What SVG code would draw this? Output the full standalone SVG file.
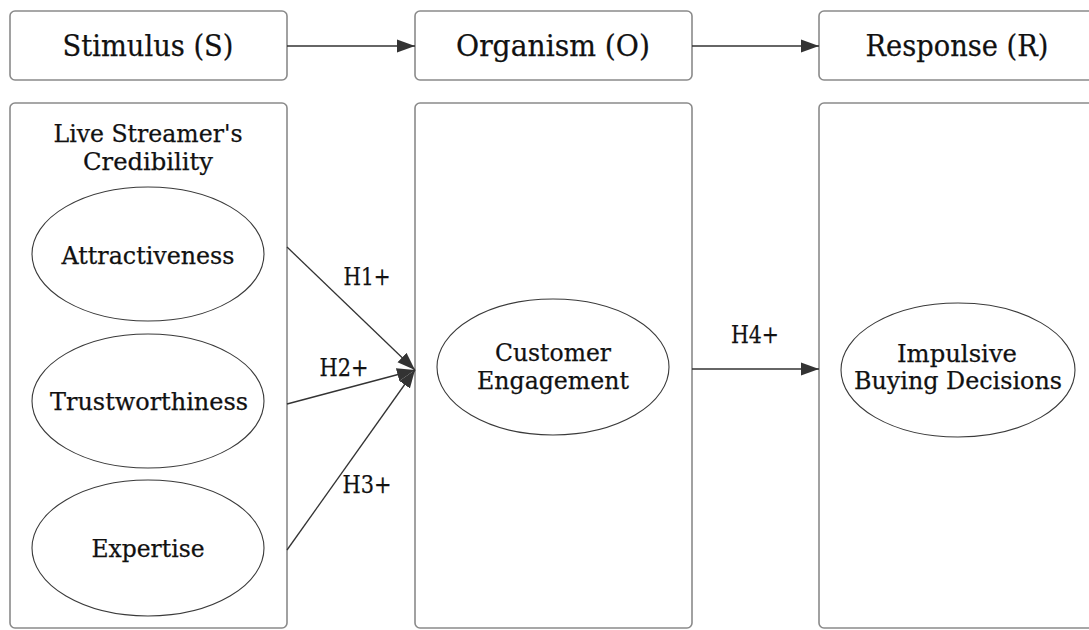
<svg xmlns="http://www.w3.org/2000/svg" width="1089" height="630" viewBox="0 0 1089 630">
<style>
.box{fill:#fff;stroke:#8a8a8a;stroke-width:1.6}
.ell{fill:#fff;stroke:#3a3a3a;stroke-width:1.1}
.t{font-family:"DejaVu Serif","Liberation Serif",serif;fill:#111;text-anchor:middle;stroke:#111;stroke-width:0.25}
.h{font-size:30px}
.l{font-size:24px}
.con{fill:none;stroke:#333;stroke-width:1.3}
</style>
<defs>
<marker id="ah" markerUnits="userSpaceOnUse" markerWidth="19" markerHeight="14" refX="18" refY="7" orient="auto">
<path d="M0,0.5 L18,7 L0,13.5 Z" fill="#333"/>
</marker>
</defs>
<rect width="1089" height="630" fill="#fff"/>
<g id="stimulus">
<rect class="box" x="10" y="11" width="277" height="69" rx="5"/>
<text class="t h" x="148" y="56" textLength="171" lengthAdjust="spacingAndGlyphs">Stimulus (S)</text>
</g>
<g id="organism">
<rect class="box" x="415" y="11" width="277" height="69" rx="5"/>
<text class="t h" x="553" y="56" textLength="194" lengthAdjust="spacingAndGlyphs">Organism (O)</text>
</g>
<g id="response">
<rect class="box" x="819" y="11" width="277" height="69" rx="5"/>
<text class="t h" x="957" y="56" textLength="183" lengthAdjust="spacingAndGlyphs">Response (R)</text>
</g>
<g id="credibility-panel">
<rect class="box" x="10" y="103" width="277" height="525" rx="5"/>
<text class="t l" x="148" y="142" textLength="189" lengthAdjust="spacingAndGlyphs">Live Streamer's</text>
<text class="t l" x="148" y="170" textLength="130" lengthAdjust="spacingAndGlyphs">Credibility</text>
</g>
<g id="organism-panel">
<rect class="box" x="415" y="103" width="277" height="525" rx="5"/>
</g>
<g id="response-panel">
<rect class="box" x="819" y="103" width="277" height="525" rx="5"/>
</g>
<g id="attractiveness">
<ellipse class="ell" cx="148" cy="254" rx="116" ry="67"/>
<text class="t l" x="148" y="264" textLength="173" lengthAdjust="spacingAndGlyphs">Attractiveness</text>
</g>
<g id="trustworthiness">
<ellipse class="ell" cx="148" cy="401" rx="116" ry="67"/>
<text class="t l" x="149" y="410" textLength="198" lengthAdjust="spacingAndGlyphs">Trustworthiness</text>
</g>
<g id="expertise">
<ellipse class="ell" cx="148" cy="548" rx="116" ry="68"/>
<text class="t l" x="148" y="557" textLength="113" lengthAdjust="spacingAndGlyphs">Expertise</text>
</g>
<g id="engagement">
<ellipse class="ell" cx="553" cy="367" rx="116" ry="68"/>
<text class="t l" x="553" y="361" textLength="116" lengthAdjust="spacingAndGlyphs">Customer</text>
<text class="t l" x="553" y="389" textLength="152" lengthAdjust="spacingAndGlyphs">Engagement</text>
</g>
<g id="impulsive">
<ellipse class="ell" cx="958" cy="370" rx="117" ry="67"/>
<text class="t l" x="957" y="362" textLength="120" lengthAdjust="spacingAndGlyphs">Impulsive</text>
<text class="t l" x="958" y="389" textLength="208" lengthAdjust="spacingAndGlyphs">Buying Decisions</text>
</g>
<g id="connectors">
<line class="con" x1="287" y1="46" x2="415" y2="46" marker-end="url(#ah)"/>
<line class="con" x1="692" y1="46" x2="819" y2="46" marker-end="url(#ah)"/>
<line class="con" x1="287" y1="247" x2="415" y2="370" marker-end="url(#ah)"/>
<line class="con" x1="287" y1="404" x2="415" y2="370" marker-end="url(#ah)"/>
<line class="con" x1="287" y1="550" x2="415" y2="370" marker-end="url(#ah)"/>
<line class="con" x1="692" y1="369" x2="819" y2="369" marker-end="url(#ah)"/>
<text class="t l" x="367" y="285" textLength="47" lengthAdjust="spacingAndGlyphs">H1+</text>
<text class="t l" x="344" y="376" textLength="49" lengthAdjust="spacingAndGlyphs">H2+</text>
<text class="t l" x="367" y="493" textLength="49" lengthAdjust="spacingAndGlyphs">H3+</text>
<text class="t l" x="755" y="343" textLength="48" lengthAdjust="spacingAndGlyphs">H4+</text>
</g>
</svg>
